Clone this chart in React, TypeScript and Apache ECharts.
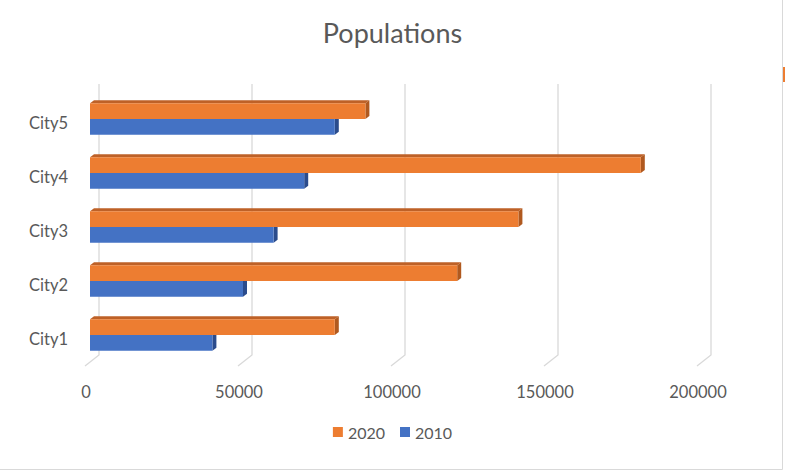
import React, { useEffect, useRef } from "react";
import * as echarts from "echarts";

const categories = ["City1", "City2", "City3", "City4", "City5"];
const values2010 = [40000, 50000, 60000, 70000, 80000];
const values2020 = [80000, 120000, 140000, 180000, 90000];
const xTicks = [0, 50000, 100000, 150000, 200000];

const FONT = "Lato, 'Open Sans', sans-serif";
const TEXT = "#595959";

function makeBarRenderer(upper: boolean, front: string, top: string, side: string) {
  return (params: any, api: any) => {
    const v = api.value(0);
    const idx = api.value(1);
    const end = api.coord([v, idx]);
    const start = api.coord([0, idx]);
    const band = api.size([0, 1])[1];
    const h = band * 0.29;
    const dx = 4;
    const dy = 3;
    const yTop = upper ? end[1] - h : end[1];
    const yBot = yTop + h;
    const x0 = start[0];
    const x1 = end[0];
    return {
      type: "group",
      children: [
        {
          type: "polygon",
          shape: { points: [[x0, yTop], [x0 + dx, yTop - dy], [x1 + dx, yTop - dy], [x1, yTop]] },
          style: { fill: top },
        },
        {
          type: "polygon",
          shape: { points: [[x1, yTop], [x1 + dx, yTop - dy], [x1 + dx, yBot - dy], [x1, yBot]] },
          style: { fill: side },
        },
        {
          type: "rect",
          shape: { x: x0, y: yTop, width: x1 - x0, height: h },
          style: { fill: front },
        },
      ],
    };
  };
}

export default function App() {
  const ref = useRef<HTMLDivElement>(null);
  useEffect(() => {
    if (!ref.current) return;
    const chart = echarts.init(ref.current, undefined, { renderer: "svg" });
    const data2010 = values2010.map((v, i) => [v, categories[i]]);
    const data2020 = values2020.map((v, i) => [v, categories[i]]);
    const gridData = xTicks.map((v) => [v, categories[0]]);
    chart.setOption({
      animation: false,
      backgroundColor: "#ffffff",
      title: {
        text: "Populations",
        left: "center",
        top: 14,
        padding: [5, 0, 5, 5],
        textStyle: { fontFamily: FONT, fontSize: 27, fontWeight: "normal", color: TEXT },
      },
      legend: {
        data: ["2020", "2010"],
        bottom: 29,
        left: "center",
        icon: "rect",
        itemWidth: 10,
        itemHeight: 10,
        itemGap: 15,
        textStyle: { fontFamily: FONT, fontSize: 16, color: TEXT },
      },
      grid: { left: 90, right: 83, top: 92, bottom: 112 },
      xAxis: {
        type: "value",
        min: 0,
        max: 200000,
        interval: 50000,
        axisLine: { show: false },
        axisTick: { show: false },
        splitLine: { show: false },
        axisLabel: {
          fontFamily: FONT,
          fontSize: 16.5,
          color: TEXT,
          margin: 21,
          padding: [0, 8, 0, 0],
          formatter: (v: number) => String(v),
        },
      },
      yAxis: {
        type: "category",
        data: categories,
        axisLine: { show: false },
        axisTick: { show: false },
        splitLine: { show: false },
        axisLabel: {
          color: TEXT,
          margin: 22,
          formatter: (v: string) => "{a|" + v + "}",
          rich: {
            a: {
              fontFamily: FONT,
              fontSize: 16.5,
              color: TEXT,
              padding: [8, 0, 0, 0],
            },
          },
        },
      },
      series: [
        {
          type: "custom",
          name: "grid",
          silent: true,
          z: 1,
          encode: { x: 0, y: 1 },
          data: gridData,
          renderItem: (params: any, api: any) => {
            const p = api.coord([api.value(0), 0]);
            const cs = params.coordSys;
            const x = p[0];
            const topY = cs.y - 8;
            const botY = cs.y + cs.height;
            return {
              type: "polyline",
              shape: { points: [[x + 9, topY], [x + 9, botY - 7], [x - 5, botY + 4]] },
              style: { stroke: "#D9D9D9", lineWidth: 1.3, fill: "none" },
            };
          },
        },
        {
          type: "custom",
          name: "2010",
          z: 2,
          encode: { x: 0, y: 1 },
          itemStyle: { color: "#4472C4" },
          data: data2010,
          renderItem: makeBarRenderer(false, "#4472C4", "#3A64AE", "#2B4C8C"),
        },
        {
          type: "custom",
          name: "2020",
          z: 3,
          encode: { x: 0, y: 1 },
          itemStyle: { color: "#ED7D31" },
          data: data2020,
          renderItem: makeBarRenderer(true, "#ED7D31", "#BE6127", "#B0591F"),
        },
      ],
      graphic: [
        {
          type: "line",
          shape: { x1: 782.5, y1: 0, x2: 782.5, y2: 469.5 },
          style: { stroke: "#D9D9D9", lineWidth: 1 },
        },
        {
          type: "line",
          shape: { x1: 0, y1: 469.5, x2: 782.5, y2: 469.5 },
          style: { stroke: "#D9D9D9", lineWidth: 1 },
        },
        {
          type: "rect",
          shape: { x: 783, y: 67, width: 2, height: 15 },
          style: { fill: "#ED7D31" },
        },
      ],
    });
    return () => chart.dispose();
  }, []);
  return (
    <div
      ref={ref}
      style={{ position: "fixed", left: 0, top: 0, width: 785, height: 474 }}
    />
  );
}
